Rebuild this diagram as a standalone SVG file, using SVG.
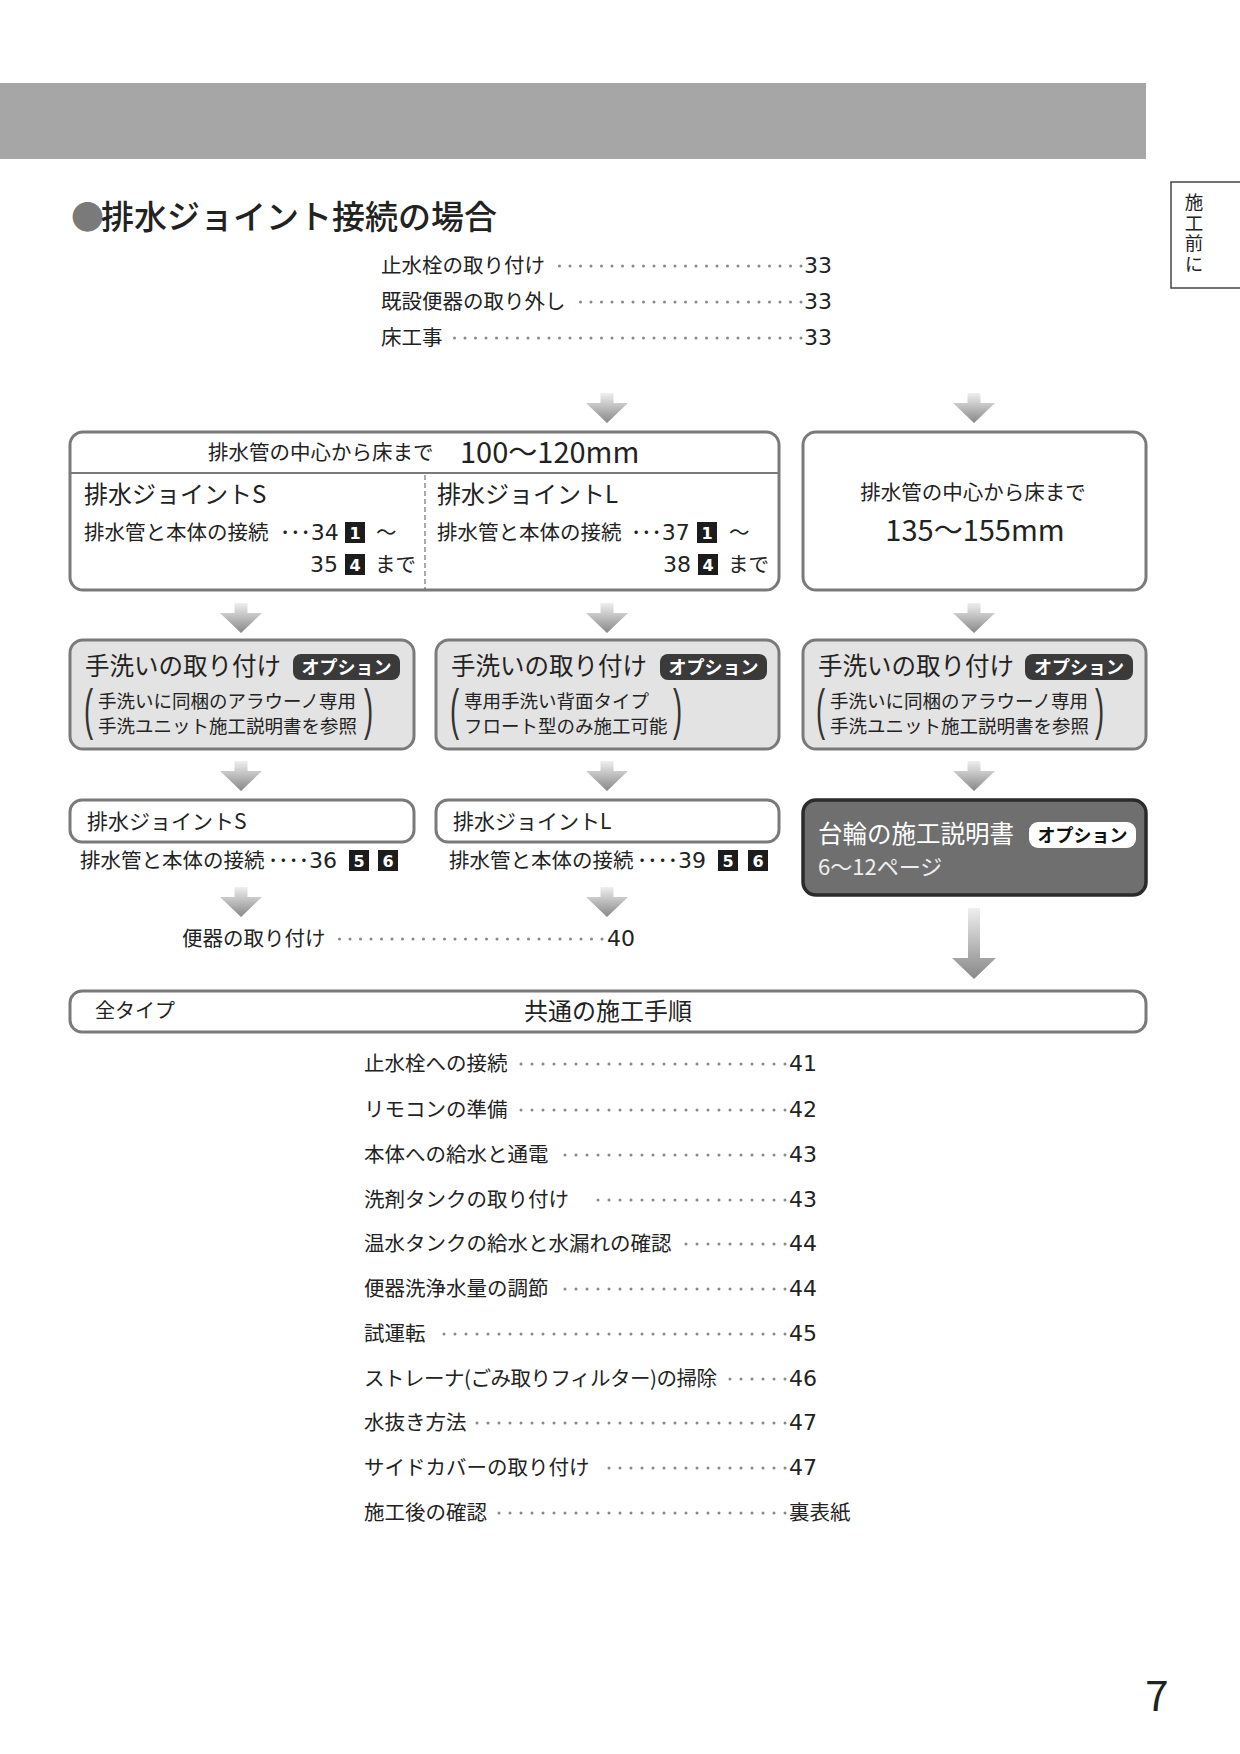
<svg xmlns="http://www.w3.org/2000/svg" width="1240" height="1754" viewBox="0 0 1240 1754">
<style>
text{font-family:"Noto Sans CJK JP","Noto Sans",sans-serif;fill:#222}
.box{fill:#fff;stroke:#7a7a7a;stroke-width:3}
.gbox{fill:#e3e3e3;stroke:#7a7a7a;stroke-width:3}
.dbox{fill:#6f6f6f;stroke:#2b2b2b;stroke-width:3.5}
.t20{font-size:20.5px}
.t24{font-size:24.5px}
.big{font-size:29px}
.sub{font-size:18.5px}
.d{font-family:"DejaVu Sans",sans-serif;font-size:22px}
.lead{stroke:#888;stroke-width:3;stroke-linecap:round;stroke-dasharray:0 10.5;fill:none}
.lead2{stroke:#888;stroke-width:3;stroke-linecap:round;stroke-dasharray:0 11;fill:none}
.badge{fill:#3a3a3a}
.btxt{font-size:18px;fill:#fff;font-weight:bold;text-anchor:middle}
.num{fill:#1c1c1c}
.ntxt{font-family:"DejaVu Sans",sans-serif;font-size:16px;fill:#fff;font-weight:bold;text-anchor:middle}
.paren{font-family:"Liberation Sans",sans-serif;font-size:55px;fill:#333}
</style>
<defs>
<linearGradient id="ag" x1="0" y1="0" x2="0" y2="1"><stop offset="0" stop-color="#efefef"/><stop offset="1" stop-color="#878787"/></linearGradient>
<path id="arr" d="M-6.5,0H6.5V10H21L0,30L-21,10H-6.5Z" fill="url(#ag)"/>
</defs>

<rect x="0" y="83" width="1146" height="76" fill="#a6a6a6"/>
<g id="tab">
<rect x="1171" y="182" width="75" height="106" fill="none" stroke="#444" stroke-width="1.5"/>
<text x="1194" y="193" font-size="18.5" writing-mode="vertical-rl" letter-spacing="2" fill="#333">施工前に</text>
</g>

<text x="71" y="229" font-size="33" font-weight="500"><tspan fill="#7a7a7a">●</tspan><tspan dx="-3">排水ジョイント接続の場合</tspan></text>

<g id="toc-top">
<text x="381" y="273" class="t20">止水栓の取り付け</text>
<text x="804" y="273" class="d">33</text>
<text x="381" y="309" class="t20">既設便器の取り外し</text>
<text x="804" y="309" class="d">33</text>
<text x="381" y="345" class="t20">床工事</text>
<text x="804" y="345" class="d">33</text>
</g>

<g id="connectors">
<use href="#arr" x="607" y="393"/>
<use href="#arr" x="974" y="393"/>
<use href="#arr" x="241" y="603"/>
<use href="#arr" x="607" y="603"/>
<use href="#arr" x="974" y="603"/>
<use href="#arr" x="241" y="761"/>
<use href="#arr" x="607" y="761"/>
<use href="#arr" x="974" y="761"/>
<use href="#arr" x="241" y="887"/>
<use href="#arr" x="607" y="887"/>
<path d="M968,908H980V958H996L974,979L952,958H968Z" fill="url(#ag)"/>
<line class="lead" x1="801" y1="266" x2="550" y2="266"/>
<line class="lead" x1="801" y1="302" x2="573" y2="302"/>
<line class="lead" x1="801" y1="338" x2="452" y2="338"/>
<line class="lead" x1="602" y1="939" x2="337" y2="939"/>
</g>

<g id="box-100">
<rect class="box" x="70" y="432" width="709" height="158" rx="13"/>
<line x1="70" y1="473" x2="779" y2="473" stroke="#7a7a7a" stroke-width="2"/>
<line x1="425" y1="475" x2="425" y2="589" stroke="#555" stroke-width="1" stroke-dasharray="5 3"/>
<text x="208" y="460" class="t20">排水管の中心から床まで</text>
<text x="460" y="463" class="big">100〜120mm</text>
<text x="84" y="503" font-size="24">排水ジョイントS</text>
<text x="84" y="540" class="t20">排水管と本体の接続</text>
<text x="280" y="540" class="t20">･･･<tspan class="d">34</tspan></text>
<rect class="num" x="345" y="522" width="20" height="21"/><text x="355" y="539" class="ntxt">1</text>
<text x="376" y="540" class="t20">〜</text>
<text x="310" y="572" class="d">35</text>
<rect class="num" x="345" y="554" width="20" height="21"/><text x="355" y="571" class="ntxt">4</text>
<text x="375" y="572" class="t20">まで</text>
<text x="437" y="503" font-size="24">排水ジョイントL</text>
<text x="437" y="540" class="t20">排水管と本体の接続</text>
<text x="631" y="540" class="t20">･･･<tspan class="d">37</tspan></text>
<rect class="num" x="697" y="522" width="20" height="21"/><text x="707" y="539" class="ntxt">1</text>
<text x="729" y="540" class="t20">〜</text>
<text x="663" y="572" class="d">38</text>
<rect class="num" x="698" y="554" width="20" height="21"/><text x="708" y="571" class="ntxt">4</text>
<text x="728" y="572" class="t20">まで</text>
</g>

<g id="box-135">
<rect class="box" x="803" y="432" width="343" height="158" rx="13"/>
<text x="973" y="500" class="t20" text-anchor="middle">排水管の中心から床まで</text>
<text x="975" y="541" class="big" text-anchor="middle">135〜155mm</text>
</g>

<g id="tearai-1">
<rect class="gbox" x="70" y="640" width="344" height="109" rx="13"/>
<text x="85" y="675" class="t24">手洗いの取り付け</text>
<rect class="badge" x="293" y="654" width="107" height="26" rx="8"/><text x="346.5" y="674" class="btxt">オプション</text>
<text class="paren" transform="translate(84,728) scale(0.5,1)">(</text>
<text x="98" y="708" class="sub">手洗いに同梱のアラウーノ専用</text>
<text x="98" y="733" class="sub">手洗ユニット施工説明書を参照</text>
<text class="paren" transform="translate(364,728) scale(0.5,1)">)</text>
</g>

<g id="tearai-2">
<rect class="gbox" x="436" y="640" width="343" height="109" rx="13"/>
<text x="451" y="675" class="t24">手洗いの取り付け</text>
<rect class="badge" x="660" y="654" width="107" height="26" rx="8"/><text x="713.5" y="674" class="btxt">オプション</text>
<text class="paren" transform="translate(450,728) scale(0.5,1)">(</text>
<text x="464" y="708" class="sub">専用手洗い背面タイプ</text>
<text x="464" y="733" class="sub">フロート型のみ施工可能</text>
<text class="paren" transform="translate(673,728) scale(0.5,1)">)</text>
</g>

<g id="tearai-3">
<rect class="gbox" x="803" y="640" width="343" height="109" rx="13"/>
<text x="818" y="675" class="t24">手洗いの取り付け</text>
<rect class="badge" x="1025" y="654" width="108" height="26" rx="8"/><text x="1079" y="674" class="btxt">オプション</text>
<text class="paren" transform="translate(816,728) scale(0.5,1)">(</text>
<text x="830" y="708" class="sub">手洗いに同梱のアラウーノ専用</text>
<text x="830" y="733" class="sub">手洗ユニット施工説明書を参照</text>
<text class="paren" transform="translate(1095,728) scale(0.5,1)">)</text>
</g>

<g id="joint-s">
<rect class="box" x="70" y="800" width="344" height="42" rx="12"/>
<text x="87" y="829" font-size="21">排水ジョイントS</text>
<text x="80" y="868" class="t20">排水管と本体の接続</text>
<text x="268" y="868" class="t20">････<tspan class="d">36</tspan></text>
<rect class="num" x="349" y="850" width="20" height="21"/><text x="359" y="867" class="ntxt">5</text>
<rect class="num" x="378" y="850" width="20" height="21"/><text x="388" y="867" class="ntxt">6</text>
</g>

<g id="joint-l">
<rect class="box" x="436" y="800" width="343" height="42" rx="12"/>
<text x="453" y="829" font-size="21">排水ジョイントL</text>
<text x="449" y="868" class="t20">排水管と本体の接続</text>
<text x="637" y="868" class="t20">････<tspan class="d">39</tspan></text>
<rect class="num" x="718" y="850" width="20" height="21"/><text x="728" y="867" class="ntxt">5</text>
<rect class="num" x="748" y="850" width="20" height="21"/><text x="758" y="867" class="ntxt">6</text>
</g>

<g id="dairin">
<rect class="dbox" x="803" y="800" width="343" height="95" rx="13"/>
<text x="818" y="843" class="t24" style="fill:#fff">台輪の施工説明書</text>
<rect x="1029" y="822" width="107" height="26" rx="9" fill="#fff"/><text x="1082.5" y="842" class="btxt" style="fill:#111">オプション</text>
<text x="818" y="875" font-size="22" style="fill:#eee">6〜12ページ</text>
</g>

<g id="benki">
<text x="182" y="946" class="t20">便器の取り付け</text>
<text x="607" y="946" class="d">40</text>
</g>

<g id="common">
<rect class="box" x="70" y="991" width="1076" height="41" rx="12"/>
<text x="95" y="1018" font-size="20">全タイプ</text>
<text x="608" y="1020" font-size="24" text-anchor="middle">共通の施工手順</text>
</g>

<g id="toc-bottom">
<text x="364" y="1071" class="t20">止水栓への接続</text><line class="lead2" x1="785" y1="1064" x2="520" y2="1064"/><text x="789" y="1071" class="d">41</text>
<text x="364" y="1117" class="t20">リモコンの準備</text><line class="lead2" x1="785" y1="1110" x2="520" y2="1110"/><text x="789" y="1117" class="d">42</text>
<text x="364" y="1162" class="t20">本体への給水と通電</text><line class="lead2" x1="785" y1="1155" x2="556" y2="1155"/><text x="789" y="1162" class="d">43</text>
<text x="364" y="1207" class="t20">洗剤タンクの取り付け</text><line class="lead2" x1="785" y1="1200" x2="596" y2="1200"/><text x="789" y="1207" class="d">43</text>
<text x="364" y="1251" class="t20">温水タンクの給水と水漏れの確認</text><line class="lead2" x1="785" y1="1244" x2="682" y2="1244"/><text x="789" y="1251" class="d">44</text>
<text x="364" y="1296" class="t20">便器洗浄水量の調節</text><line class="lead2" x1="785" y1="1289" x2="558" y2="1289"/><text x="789" y="1296" class="d">44</text>
<text x="364" y="1341" class="t20">試運転</text><line class="lead2" x1="785" y1="1334" x2="438" y2="1334"/><text x="789" y="1341" class="d">45</text>
<text x="364" y="1386" class="t20" letter-spacing="-0.5">ストレーナ(ごみ取りフィルター)の掃除</text><line class="lead2" x1="785" y1="1379" x2="728" y2="1379"/><text x="789" y="1386" class="d">46</text>
<text x="364" y="1430" class="t20">水抜き方法</text><line class="lead2" x1="785" y1="1423" x2="475" y2="1423"/><text x="789" y="1430" class="d">47</text>
<text x="364" y="1475" class="t20">サイドカバーの取り付け</text><line class="lead2" x1="785" y1="1468" x2="602" y2="1468"/><text x="789" y="1475" class="d">47</text>
<text x="364" y="1520" class="t20">施工後の確認</text><line class="lead2" x1="785" y1="1513" x2="498" y2="1513"/><text x="789" y="1520" class="t20">裏表紙</text>
</g>

<text x="1157" y="1711" font-size="42" text-anchor="middle">7</text>
</svg>
